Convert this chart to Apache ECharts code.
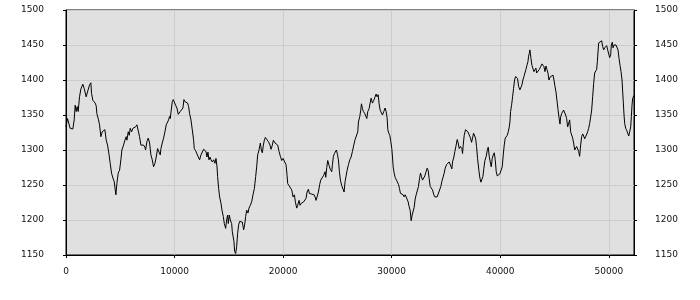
<!DOCTYPE html>
<html>
<head>
<meta charset="utf-8">
<script src="https://cdn.jsdelivr.net/npm/echarts@6/dist/echarts.min.js"></script>
<style>
html,body{margin:0;padding:0;background:#fff;}
#chart{width:700px;height:300px;}
</style>
</head>
<body>
<div id="chart"></div>
<script>
const xs = [0,139,262,385,630,753,846,938,1030,1122,1245,1368,1552,1675,1860,1983,2167,2290,2351,2474,2597,2689,2781,2843,2997,3089,3212,3335,3458,3581,3704,3826,3949,4072,4195,4318,4441,4533,4595,4687,4810,4933,5056,5148,5301,5424,5547,5609,5732,5824,5916,6039,6162,6285,6408,6531,6654,6776,6899,7022,7145,7268,7330,7453,7576,7699,7822,7944,8067,8190,8313,8436,8590,8682,8743,
8866,8989,9112,9235,9358,9450,9542,9604,9696,9788,9880,9973,10095,10218,10341,10433,10526,10649,10771,10864,10956,11079,11202,11294,11386,11509,11632,11755,11816,11939,12062,12185,12308,12431,12554,12677,12800,12892,12984,13076,13168,13261,13353,13476,13599,13722,13814,13906,13967,14060,14152,14275,14367,14490,14582,14705,14797,14889,14951,15043,15135,15258,15320,15412,15473,15535,15627,15719,15811,15903,15996,16119,16241,16364,16456,16549,16641,16764,16856,16979,17102,
17226,17349,17472,17564,17656,17779,17902,17994,18086,18179,18271,18363,18517,18640,18793,18885,19008,19100,19254,19408,19500,19623,19746,19869,19992,20084,20176,20268,20360,20422,20545,20668,20791,20914,21036,21129,21252,21344,21467,21559,21682,21774,21897,22020,22112,22204,22327,22419,22511,22634,22757,22850,22942,23034,23126,23249,23372,23464,23618,23741,23864,23925,24017,24109,24232,24355,24478,24540,24632,24724,24847,24908,25001,25093,25185,25277,25400,25523,25615,25707,
25770,25893,26016,26139,26262,26385,26508,26630,26753,26876,26938,27061,27153,27214,27307,27399,27522,27614,27706,27798,27921,28013,28105,28167,28228,28351,28474,28566,28658,28751,28843,28935,29027,29150,29273,29396,29488,29580,29642,29734,29826,29919,30011,30072,30134,30226,30318,30441,30533,30625,30717,30810,30933,31056,31148,31240,31332,31424,31516,31609,31701,31793,31885,31977,32070,32162,32254,32377,32469,32561,32653,32746,32838,32961,33053,33145,33268,33360,33452,33545,33668,33760,33883,33975,34067,34190,34282,34374,
34529,34621,34744,34837,34929,35052,35175,35297,35420,35543,35605,35728,35820,35912,36035,36127,36219,36342,36465,36527,36588,36680,36803,36895,37018,37141,37264,37356,37449,37541,37633,37725,37817,37909,38032,38125,38217,38309,38401,38493,38586,38708,38801,38893,38985,39077,39169,39262,39354,39446,39538,39630,39723,39845,39968,40091,40184,40276,40368,40460,40552,40644,40737,40829,40890,40952,41044,41136,41228,41321,41413,41505,41597,41689,41812,41904,41997,42089,42181,42273,42365,42457,42550,42611,42672,42733,42826,42918,43010,43102,43195,43287,
43350,43473,43596,43719,43842,43934,44026,44118,44210,44302,44395,44487,44579,44671,44763,44856,44948,45040,45132,45224,45317,45409,45501,45562,45654,45747,45839,45931,46023,46115,46208,46300,46392,46484,46576,46669,46761,46853,46945,47037,47130,47222,47314,47406,47498,47591,47683,47775,47867,47959,48052,48144,48236,48328,48420,48512,48605,48697,48789,48881,48943,49004,49066,49158,49250,49342,49434,49526,49619,49711,49803,49895,49987,50080,50172,50233,50326,50387,50479,50571,50664,50756,50848,50940,51032,51124,51217,51278,51340,51401,51462,51554,51647,51739,51831,51923,52015,52077,52138,52200,52320];

const ys = [1333,1345,1346,1331,1330,1343,1364,1355,1362,1355,1376,1387,1394,1388,1376,1383,1393,1396,1381,1371,1372,1367,1363,1352,1343,1336,1319,1326,1325,1329,1314,1307,1295,1281,1267,1260,1255,1243,1236,1252,1267,1271,1286,1300,1307,1314,1319,1314,1326,1321,1331,1326,1331,1331,1333,1336,1335,1319,1307,1306,1307,1304,1300,1312,1317,1310,1293,1286,1276,1281,1290,1302,1300,1293,1302,
1310,1317,1326,1336,1340,1343,1348,1345,1357,1369,1372,1371,1364,1360,1351,1350,1355,1357,1360,1372,1369,1370,1367,1362,1352,1343,1329,1314,1302,1299,1297,1290,1286,1293,1295,1301,1301,1298,1290,1297,1286,1290,1286,1283,1286,1281,1288,1277,1262,1245,1233,1224,1214,1205,1195,1188,1200,1207,1195,1207,1200,1195,1183,1183,1169,1155,1152,1162,1181,1193,1198,1197,1197,1186,1193,1205,1214,1210,1217,1221,1226,
1236,1245,1262,1276,1293,1300,1310,1300,1296,1307,1314,1318,1318,1312,1307,1301,1307,1314,1310,1310,1307,1298,1291,1285,1288,1286,1290,1279,1264,1252,1249,1247,1243,1233,1236,1226,1217,1221,1228,1221,1224,1222,1226,1226,1231,1240,1244,1238,1236,1237,1236,1236,1233,1228,1233,1240,1251,1257,1259,1264,1269,1261,1275,1285,1278,1272,1269,1279,1291,1295,1293,1300,1294,1286,1269,1257,1249,1247,1240,1255,
1257,1271,1279,1286,1290,1298,1307,1315,1317,1326,1340,1348,1357,1366,1359,1355,1352,1350,1345,1355,1359,1367,1374,1375,1367,1371,1376,1380,1376,1379,1366,1357,1355,1350,1355,1360,1355,1346,1329,1324,1321,1312,1302,1290,1276,1267,1261,1257,1259,1251,1245,1238,1237,1236,1233,1236,1233,1233,1226,1219,1214,1199,1207,1205,1218,1230,1236,1237,1248,1259,1267,1262,1257,1255,1263,1268,1274,1271,1259,1248,1247,1243,1236,1233,1234,1233,1231,1234,
1248,1255,1254,1267,1274,1279,1281,1283,1281,1273,1283,1290,1298,1305,1315,1310,1302,1305,1302,1295,1307,1321,1329,1330,1326,1324,1317,1311,1317,1324,1326,1317,1305,1288,1271,1260,1254,1255,1262,1274,1285,1291,1299,1304,1291,1283,1276,1288,1293,1296,1286,1269,1263,1263,1266,1267,1276,1293,1307,1317,1318,1321,1326,1333,1340,1355,1364,1376,1388,1400,1405,1404,1402,1391,1386,1387,1393,1400,1405,1410,1415,1421,1426,1434,1438,1443,1431,1421,1419,1412,1414,1417,
1410,1412,1415,1419,1423,1424,1419,1412,1420,1415,1410,1400,1404,1406,1402,1407,1400,1391,1383,1371,1358,1347,1337,1347,1352,1353,1357,1359,1350,1345,1333,1331,1343,1326,1324,1317,1310,1300,1301,1305,1307,1298,1291,1307,1319,1323,1320,1316,1319,1321,1326,1331,1338,1347,1357,1376,1395,1410,1410,1415,1426,1440,1453,1454,1453,1456,1448,1443,1446,1447,1449,1443,1441,1432,1436,1450,1454,1446,1450,1449,1450,1448,1443,1431,1421,1412,1400,1383,1367,1350,1338,1331,1328,1324,1320,1326,1333,1348,1364,1374,1378];

const xTicks = [0, 10000, 20000, 30000, 40000, 50000];
const yMin = 1150, yMax = 1500, yStep = 50;

const chart = echarts.init(document.getElementById('chart'), null, {renderer: 'canvas'});
const plain = v => String(v);
const labelStyle = {fontFamily: 'DejaVu Sans', fontSize: 9, color: '#111', formatter: plain};
const yAxisBase = {
  type: 'value', min: yMin, max: yMax, interval: yStep,
  axisLine: {show: true, lineStyle: {color: '#000', width: 1}},
  axisTick: {show: true, length: 3, lineStyle: {color: '#000'}},
};
chart.setOption({
  animation: false,
  backgroundColor: '#ffffff',
  grid: {left: 66, right: 66, top: 10, bottom: 45, show: true,
         backgroundColor: '#e0e0e0', borderColor: '#000', borderWidth: 1},
  xAxis: {
    type: 'value', min: 0, max: xs[xs.length - 1], interval: 10000,
    axisLine: {show: true, onZero: false, lineStyle: {color: '#000'}},
    axisTick: {show: true, length: 3, lineStyle: {color: '#000'}, customValues: xTicks},
    axisLabel: Object.assign({margin: 12, customValues: xTicks}, labelStyle),
    splitLine: {show: true, lineStyle: {color: '#cccccc', width: 1}}
  },
  yAxis: [
    Object.assign({}, yAxisBase, {position: 'left',
      axisLabel: Object.assign({margin: 22}, labelStyle),
      splitLine: {show: true, lineStyle: {color: '#cccccc', width: 1}}}),
    Object.assign({}, yAxisBase, {position: 'right',
      axisLabel: Object.assign({margin: 21}, labelStyle),
      splitLine: {show: false}})
  ],
  series: [{
    type: 'line', yAxisIndex: 0,
    data: xs.map((x, i) => [x, ys[i]]),
    showSymbol: false, symbol: 'none',
    lineStyle: {color: '#000', width: 1},
    silent: true
  }]
});
</script>
</body>
</html>
